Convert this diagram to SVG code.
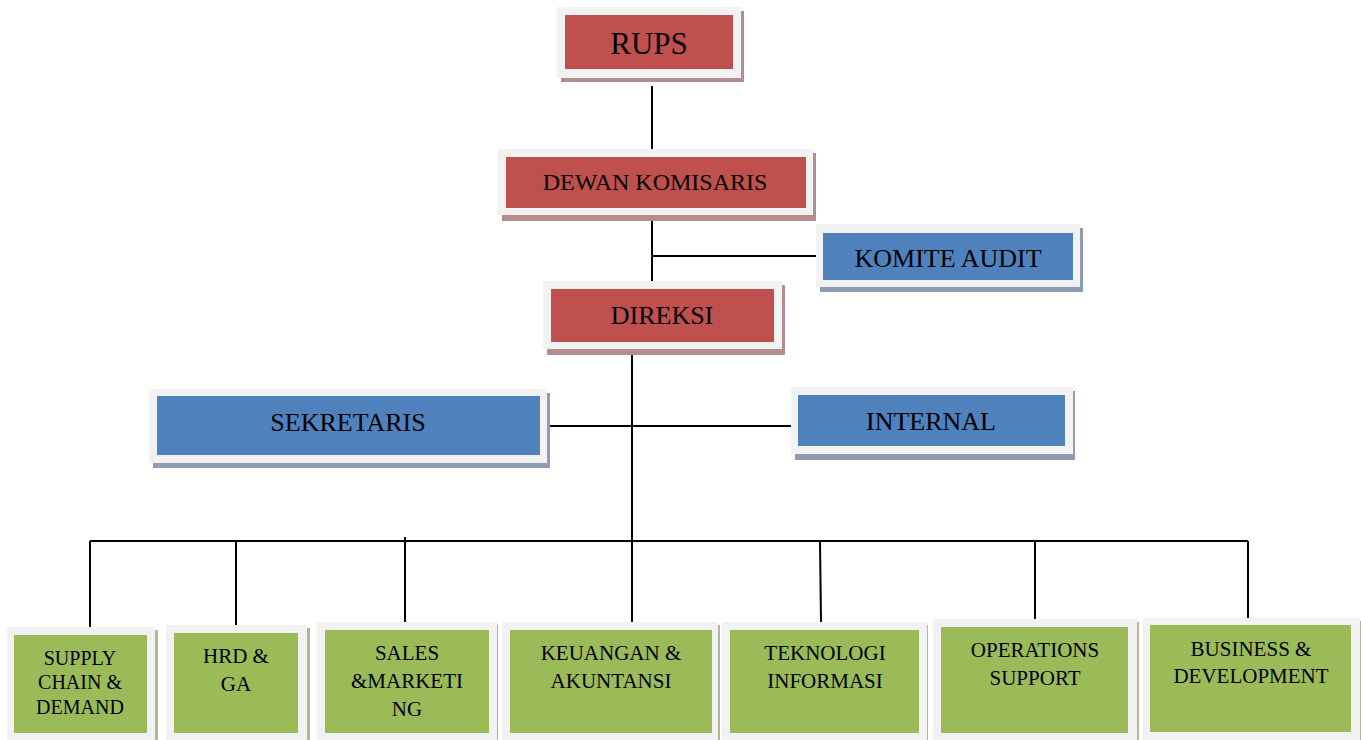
<svg xmlns="http://www.w3.org/2000/svg" width="1361" height="740" viewBox="0 0 1361 740">
<style>
.frame{fill:#f2f2f2}
.red{fill:#c0504d}
.blue{fill:#4f81bd}
.green{fill:#9bbb59}
.shr{fill:#b58d8d}
.shb{fill:#8e9db3}
.shg{fill:#b2b79b}
text{font-family:"Liberation Serif","Times New Roman",serif;fill:#000;text-anchor:middle}
.t26{font-size:26px}
.t21{font-size:21px}
.conn line{stroke:#000;stroke-width:2}
</style>
<rect width="1361" height="740" fill="#fff"/>
<g id="connectors" class="conn">
<line x1="652" y1="86" x2="652" y2="152"/>
<line x1="652" y1="217" x2="652" y2="282"/>
<line x1="652" y1="256" x2="816" y2="256"/>
<line x1="632" y1="354" x2="632" y2="622"/>
<line x1="547" y1="426" x2="791" y2="426"/>
<line x1="90" y1="541" x2="1248" y2="541"/>
<line x1="90" y1="541" x2="90" y2="627"/>
<line x1="236" y1="541" x2="236" y2="625"/>
<line x1="405" y1="537" x2="405" y2="622"/>
<line x1="820" y1="541" x2="821" y2="622"/>
<line x1="1035" y1="541" x2="1035" y2="619"/>
<line x1="1248" y1="541" x2="1248" y2="618"/>
</g>
<g id="rups">
<rect class="shr" x="561" y="11" width="183" height="71"/>
<rect class="frame" x="557" y="7" width="184" height="71"/>
<rect class="red" x="565" y="15" width="168" height="54"/>
<text x="649" y="54" style="font-size:31px">RUPS</text>
</g>
<g id="dewan-komisaris">
<rect class="shr" x="502" y="153" width="314" height="68"/>
<rect class="frame" x="498" y="149" width="315" height="66"/>
<rect class="red" x="506" y="157" width="300" height="51"/>
<text x="655" y="190" style="font-size:24px">DEWAN KOMISARIS</text>
</g>
<g id="komite-audit">
<rect class="shb" x="820" y="228" width="263" height="64"/>
<rect class="frame" x="816" y="224" width="264" height="63"/>
<rect class="blue" x="823" y="233" width="250" height="47"/>
<text x="948" y="267" class="t26">KOMITE AUDIT</text>
</g>
<g id="direksi">
<rect class="shr" x="547" y="285" width="238" height="70"/>
<rect class="frame" x="543" y="281" width="239" height="68"/>
<rect class="red" x="551" y="289" width="223" height="53"/>
<text x="662" y="324" class="t26">DIREKSI</text>
</g>
<g id="sekretaris">
<rect class="shb" x="153" y="393" width="397" height="75"/>
<rect class="frame" x="149" y="389" width="398" height="74"/>
<rect class="blue" x="157" y="396" width="383" height="59"/>
<text x="348" y="431" class="t26">SEKRETARIS</text>
</g>
<g id="internal">
<rect class="shb" x="795" y="391" width="280" height="69"/>
<rect class="frame" x="791" y="387" width="282" height="67"/>
<rect class="blue" x="798" y="395" width="267" height="51"/>
<text x="931" y="430" class="t26">INTERNAL</text>
</g>
<g id="supply-chain">
<rect class="shg" x="10" y="630" width="148" height="112"/>
<rect class="frame" x="7" y="627" width="148" height="113"/>
<rect class="green" x="14" y="635" width="133" height="98"/>
<text x="80" y="665" style="font-size:20px">SUPPLY</text>
<text x="80" y="689" style="font-size:20px">CHAIN &amp;</text>
<text x="80" y="714" style="font-size:20px">DEMAND</text>
</g>
<g id="hrd-ga">
<rect class="shg" x="169" y="628" width="141" height="114"/>
<rect class="frame" x="166" y="625" width="141" height="115"/>
<rect class="green" x="174" y="633" width="124" height="100"/>
<text x="236" y="663" class="t21">HRD &amp;</text>
<text x="236" y="691" class="t21">GA</text>
</g>
<g id="sales-marketing">
<rect class="shg" x="320" y="625" width="178" height="117"/>
<rect class="frame" x="317" y="622" width="180" height="118"/>
<rect class="green" x="325" y="630" width="164" height="103"/>
<text x="407" y="660" class="t21">SALES</text>
<text x="407" y="688" class="t21">&amp;MARKETI</text>
<text x="407" y="716" class="t21">NG</text>
</g>
<g id="keuangan">
<rect class="shg" x="505" y="625" width="215" height="117"/>
<rect class="frame" x="502" y="622" width="216" height="118"/>
<rect class="green" x="510" y="630" width="202" height="103"/>
<text x="611" y="660" class="t21">KEUANGAN &amp;</text>
<text x="611" y="688" class="t21">AKUNTANSI</text>
</g>
<g id="teknologi">
<rect class="shg" x="725" y="625" width="203" height="117"/>
<rect class="frame" x="722" y="622" width="205" height="118"/>
<rect class="green" x="730" y="630" width="189" height="103"/>
<text x="825" y="660" class="t21">TEKNOLOGI</text>
<text x="825" y="688" class="t21">INFORMASI</text>
</g>
<g id="operations">
<rect class="shg" x="936" y="622" width="203" height="120"/>
<rect class="frame" x="933" y="619" width="204" height="121"/>
<rect class="green" x="941" y="627" width="187" height="106"/>
<text x="1035" y="657" class="t21">OPERATIONS</text>
<text x="1035" y="685" class="t21">SUPPORT</text>
</g>
<g id="business-development">
<rect class="shg" x="1146" y="621" width="215" height="121"/>
<rect class="frame" x="1143" y="618" width="217" height="122"/>
<rect class="green" x="1150" y="625" width="201" height="107"/>
<text x="1251" y="656" class="t21">BUSINESS &amp;</text>
<text x="1251" y="683" class="t21">DEVELOPMENT</text>
</g>
</svg>
